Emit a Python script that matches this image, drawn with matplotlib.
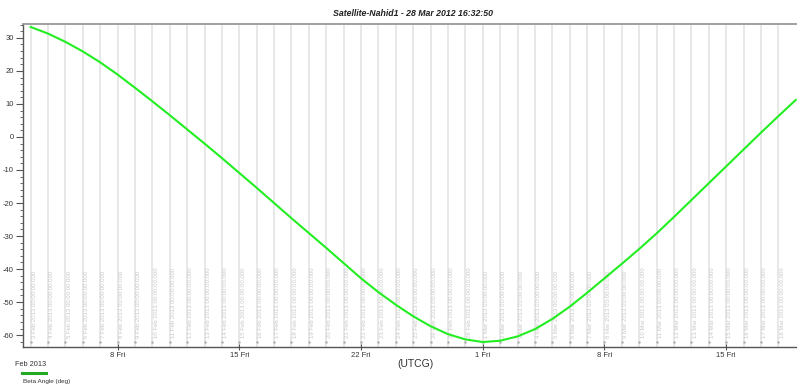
import pandas as pd
import matplotlib.pyplot as plt
from matplotlib.lines import Line2D
from matplotlib.ticker import MultipleLocator

plt.rcParams['font.family'] = ['Liberation Sans', 'DejaVu Sans']
plt.rcParams['axes.unicode_minus'] = False

title = 'Satellite-Nahid1 - 28 Mar 2012 16:32:50'
days = pd.date_range('2013-02-03', '2013-03-19', freq='D')
beta_angle = [
    33.3, 31.3, 28.8, 25.9, 22.6, 18.9, 14.9, 10.8, 6.6, 2.3,
    -2.0, -6.4, -10.9, -15.4, -20.0, -24.6, -29.1, -33.6, -38.2, -42.8,
    -47.0, -50.8, -54.3, -57.3, -59.7, -61.3, -62.1, -61.7, -60.4, -58.2,
    -55.1, -51.4, -47.2, -42.8, -38.4, -33.9, -29.2, -24.2, -19.1, -14.0,
    -8.9, -3.8, 1.3, 6.3, 11.2,
]
major_days = pd.to_datetime(['2013-02-08', '2013-02-15', '2013-02-22',
                             '2013-03-01', '2013-03-08', '2013-03-15'])
major_labels = ['8 Fri', '15 Fri', '22 Fri', '1 Fri', '8 Fri', '15 Fri']

fig = plt.figure(figsize=(7.97, 3.87), dpi=100)
ax = fig.add_axes([23 / 797, 1 - 347 / 387, 1 - 23 / 797, 323 / 387])

# daily grid lines with a dot at the foot and a rotated timestamp
for d in days[:-1]:
    ax.axvline(d, color='#e4e4e4', lw=1.2, zorder=0)
    ax.plot([d], [0.0165], marker='o', ms=1.8, color='#b0b0b0', mew=0,
            transform=ax.get_xaxis_transform(), clip_on=False, zorder=1)
    ax.annotate(d.strftime('%-d %b %Y 00:00:00.000'), xy=(d, 0.028),
                xycoords=('data', 'axes fraction'), xytext=(2.7, 0),
                textcoords='offset points', rotation=90, ha='center',
                va='bottom', fontsize=4.3, color='#c8c8c8', zorder=1)

ax.plot(days, beta_angle, color='#22ee22', lw=1.5, zorder=3)

x0 = days[0] - pd.Timedelta(hours=10.5)
x1 = days[-1] + pd.Timedelta(hours=1.7)
ax.set_xlim(x0, x1)
ax.set_ylim(-63.6, 34.2)

ax.set_xticks(major_days)
ax.set_xticklabels(major_labels)
ax.tick_params(axis='x', direction='inout', length=4, width=0.8,
               colors='#555555', labelsize=5.5, pad=1.5, labelcolor='#333333')
ax.yaxis.set_major_locator(MultipleLocator(10))
ax.yaxis.set_minor_locator(MultipleLocator(2))
ax.tick_params(axis='y', which='major', direction='out', length=5, width=0.8,
               colors='#555555', labelsize=5.5, pad=1.5, labelcolor='#333333')
ax.tick_params(axis='y', which='minor', direction='out', length=2.5,
               width=0.6, colors='#555555')

for side in ['left', 'bottom']:
    ax.spines[side].set_color('#555555')
    ax.spines[side].set_linewidth(1.0)
ax.spines['top'].set_color('#999999')
ax.spines['top'].set_linewidth(1.3)
ax.spines['right'].set_visible(False)

fig.text(413 / 797, 1 - 14 / 387, title, ha='center', va='center',
         fontsize=6.3, fontweight='bold', fontstyle='italic', color='#222222')
fig.text(415 / 797, 1 - 364 / 387, '(UTCG)', ha='center', va='center',
         fontsize=7.5, color='#333333')
fig.text(15 / 797, 1 - 364 / 387, 'Feb 2013', ha='left', va='center',
         fontsize=5.3, color='#333333')

# legend entry
fig.add_artist(Line2D([22 / 797, 46 / 797], [1 - 373 / 387, 1 - 373 / 387],
                      color='#22aa22', lw=2.2, transform=fig.transFigure))
fig.text(23 / 797, 1 - 381 / 387, 'Beta Angle (deg)', ha='left', va='center',
         fontsize=4.6, color='#333333')

fig.savefig('out.png', dpi=100)
